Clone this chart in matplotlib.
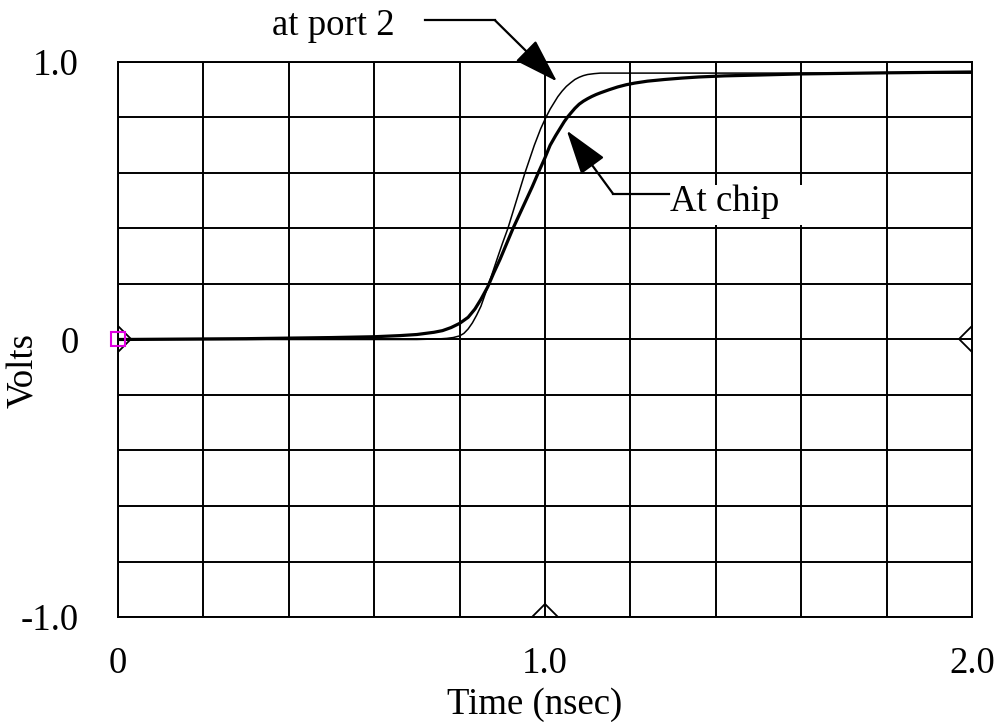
import matplotlib
matplotlib.use("Agg")
import matplotlib.pyplot as plt
from matplotlib.patches import Rectangle

# ---- data ----
t_port2 = [0.0, 0.70, 0.75, 0.77, 0.785, 0.80, 0.81, 0.82, 0.83, 0.84, 0.85, 0.858, 0.866,
           0.878, 0.89, 0.90, 0.913, 0.924, 0.935, 0.944, 0.953, 0.964, 0.975, 0.99,
           1.002, 1.012, 1.02, 1.03, 1.04, 1.05, 1.06, 1.07, 1.08, 1.09, 1.10, 1.115,
           1.13, 2.0]
v_port2 = [0.0, 0.0, 0.002, 0.004, 0.007, 0.013, 0.022, 0.038, 0.06, 0.088, 0.12, 0.155,
           0.19, 0.245, 0.30, 0.345, 0.40, 0.455, 0.51, 0.555, 0.60, 0.65, 0.70, 0.76,
           0.80, 0.83, 0.85, 0.875, 0.895, 0.912, 0.925, 0.937, 0.945, 0.951, 0.955,
           0.958, 0.96, 0.96]

t_chip = [0.0, 0.30, 0.50, 0.60, 0.66, 0.70, 0.72, 0.74, 0.76, 0.78, 0.80, 0.82, 0.836,
          0.85, 0.866, 0.88, 0.895, 0.91, 0.925, 0.94, 0.955, 0.97, 0.984, 1.00, 1.012,
          1.025, 1.035, 1.045, 1.052, 1.06, 1.07, 1.08, 1.09, 1.10, 1.11, 1.12, 1.13,
          1.15, 1.17, 1.19, 1.21, 1.24, 1.28, 1.32, 1.36, 1.42, 1.50, 1.60, 1.80, 2.0]
v_chip = [0.0, 0.003, 0.007, 0.010, 0.014, 0.018, 0.022, 0.026, 0.032, 0.043, 0.058,
          0.08, 0.11, 0.145, 0.19, 0.24, 0.29, 0.345, 0.40, 0.45, 0.50, 0.55, 0.60,
          0.655, 0.70, 0.735, 0.76, 0.785, 0.80, 0.815, 0.833, 0.848, 0.859, 0.868,
          0.876, 0.883, 0.889, 0.90, 0.91, 0.918, 0.924, 0.931, 0.937, 0.942, 0.946,
          0.950, 0.953, 0.957, 0.961, 0.964]

xtick_vals = [0.0, 1.0, 2.0]
xtick_labels = ["0", "1.0", "2.0"]
ytick_vals = [1.0, 0.0, -1.0]
ytick_labels = ["1.0", "0", "-1.0"]
xgrid = [0.2 * i for i in range(11)]
ygrid = [-1.0 + 0.2 * i for i in range(11)]

plt.rcParams['font.family'] = ['Liberation Serif', 'DejaVu Serif']
FS = 26.5

fig = plt.figure(figsize=(9.97, 7.22), dpi=100)
ax = fig.add_axes([118/997, 1-617/722, (972-118)/997, (617-62)/722])
ax.set_xlim(0, 2.0)
ax.set_ylim(-1.0, 1.0)

for x in xgrid:
    ax.axvline(x, color='black', lw=1.4, zorder=1)
for y in ygrid:
    ax.axhline(y, color='black', lw=1.4, zorder=1)
for s in ax.spines.values():
    s.set_linewidth(1.4)

ax.plot(t_port2, v_port2, color='black', lw=1.1, zorder=3)
ax.plot(t_chip, v_chip, color='black', lw=2.3, zorder=3)

# edge markers (half diamonds)
for mx, my in [(0.0, 0.0), (2.0, 0.0), (1.0, -1.0)]:
    ax.plot([mx], [my], marker='D', ms=13, mfc='none', mec='black', mew=1.3, zorder=4)
ax.plot([0.0], [0.0], marker='s', ms=9.5, mfc='none', mec='#e000e0', mew=1.5,
        zorder=5, clip_on=False)

ax.set_xticks(xtick_vals)
ax.set_xticklabels(xtick_labels, fontsize=FS)
ax.set_yticks(ytick_vals)
ax.set_yticklabels(ytick_labels, fontsize=FS)
ax.tick_params(axis='both', length=0)
ax.tick_params(axis='x', pad=21)
ax.tick_params(axis='y', pad=28)

ax.set_xlabel("Time (nsec)", fontsize=FS)
ax.set_ylabel("Volts", fontsize=FS)
ax.xaxis.set_label_coords(0.488, -0.158)
ax.yaxis.set_label_coords(-0.110, 0.445)
ax.xaxis.label.set_va('center')
ax.yaxis.label.set_va('center')

# annotation "at port 2"
ax.plot([0.719, 0.883], [1.15, 1.15], color='black', lw=1.6, clip_on=False, zorder=6)
ax.annotate("", xy=(1.028, 0.93), xytext=(0.883, 1.15),
            arrowprops=dict(arrowstyle='-|>,head_length=1.4,head_width=0.45',
                            mutation_scale=20, lw=1.6, color='black',
                            shrinkA=0, shrinkB=0), annotation_clip=False, zorder=6)
ax.text(0.649, 1.131, "at port 2", fontsize=FS, ha='right', va='center', clip_on=False)

# annotation "At chip"
ax.add_patch(Rectangle((1.285, 0.411), 0.33, 0.144, facecolor='white',
                       edgecolor='none', zorder=4))
ax.plot([1.159, 1.29], [0.526, 0.526], color='black', lw=1.6, zorder=6)
ax.annotate("", xy=(1.051, 0.753), xytext=(1.159, 0.526),
            arrowprops=dict(arrowstyle='-|>,head_length=1.4,head_width=0.45',
                            mutation_scale=20, lw=1.6, color='black',
                            shrinkA=0, shrinkB=0), zorder=6)
ax.text(1.293, 0.495, "At chip", fontsize=FS, ha='left', va='center', zorder=5)

fig.savefig("out.png", dpi=100)
